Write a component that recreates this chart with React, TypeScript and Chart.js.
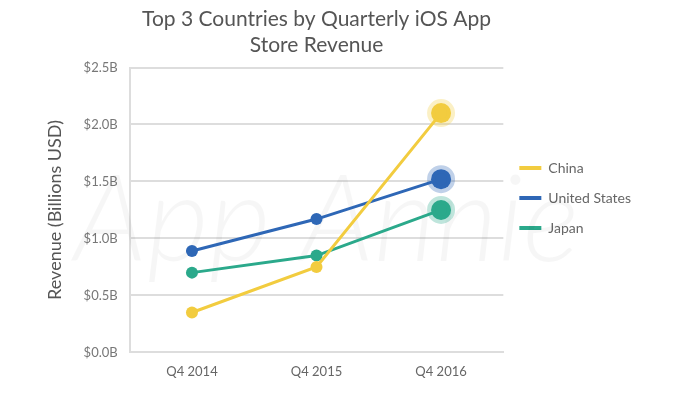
import React, { useEffect, useRef } from "react";
import { Chart, registerables } from "chart.js";

Chart.register(...registerables);

const categories = ["Q4 2014", "Q4 2015", "Q4 2016"];
const china = [0.35, 0.75, 2.1];
const unitedStates = [0.89, 1.17, 1.52];
const japan = [0.7, 0.85, 1.25];
const seriesNames = ["China", "United States", "Japan"];
const titleLines = ["Top 3 Countries by Quarterly iOS App", "Store Revenue"];
const yAxisTitle = "Revenue (Billions USD)";
const watermark = "App Annie";

const FONT = "Lato, 'Open Sans', sans-serif";

const watermarkPlugin = {
  id: "watermark",
  beforeDatasetsDraw(chart: any) {
    const { ctx, chartArea } = chart;
    ctx.save();
    ctx.font = `italic 300 120px ${FONT}`;
    ctx.fillStyle = "rgba(0,0,0,0.035)";
    ctx.textAlign = "center";
    ctx.textBaseline = "middle";
    ctx.fillText(watermark, (chartArea.left + chartArea.right) / 2 + 10, 222);
    ctx.restore();
  },
};

export default function App() {
  const ref = useRef<HTMLCanvasElement>(null);
  useEffect(() => {
    if (!ref.current) return;
    const mk = (label: string, data: number[], color: string, halo: string) => ({
      label,
      data,
      borderColor: color,
      backgroundColor: color,
      borderWidth: 3,
      pointRadius: [6, 6, 10],
      pointHoverRadius: [6, 6, 10],
      pointBackgroundColor: color,
      pointBorderColor: [color, color, halo],
      pointBorderWidth: [0, 0, 8],
      tension: 0,
    });
    const chart = new Chart(ref.current, {
      type: "line",
      data: {
        labels: categories,
        datasets: [
          mk(seriesNames[0], china, "#F2CC3F", "rgba(242,204,63,0.3)"),
          mk(seriesNames[1], unitedStates, "#2E67B6", "rgba(46,103,182,0.3)"),
          mk(seriesNames[2], japan, "#2BA98B", "rgba(43,169,139,0.3)"),
        ],
      },
      options: {
        animation: false,
        responsive: false,
        layout: { padding: { top: 4, right: 59, bottom: 7, left: 40 } },
        plugins: {
          title: {
            display: true,
            text: titleLines,
            color: "#555",
            font: { family: FONT, size: 21, weight: "normal", lineHeight: 1.25 },
            padding: { top: 2, bottom: 9 },
            fullSize: false,
          },
          legend: {
            position: "right",
            align: "center",
            labels: {
              color: "#666",
              font: { family: FONT, size: 14 },
              boxWidth: 22,
              boxHeight: 4,
              padding: 16,
              generateLabels(chart: any) {
                const items = Chart.defaults.plugins.legend.labels.generateLabels(chart);
                return items.map((it: any) => ({ ...it, lineWidth: 0 }));
              },
            },
          },
          tooltip: { enabled: false },
        },
        scales: {
          x: {
            offset: true,
            grid: { display: false, drawTicks: false },
            border: { display: true, color: "#dddddd", width: 2 },
            ticks: { color: "#666", font: { family: FONT, size: 13 }, padding: 12 },
          },
          y: {
            min: 0,
            max: 2.5,
            ticks: {
              stepSize: 0.5,
              color: "#777",
              font: { family: FONT, size: 13 },
              padding: 12,
              callback: (v: any) => `$${Number(v).toFixed(1)}B`,
            },
            grid: { color: "#dddddd", lineWidth: 2, drawTicks: false },
            border: { display: true, color: "#dddddd", width: 2 },
            title: {
              display: true,
              text: yAxisTitle,
              color: "#555",
              font: { family: FONT, size: 18 },
              padding: { bottom: 6 },
            },
          },
        },
      },
      plugins: [watermarkPlugin],
    } as any);
    return () => chart.destroy();
  }, []);
  return (
    <div style={{ position: "fixed", left: 0, top: 0, width: 700, height: 399, background: "#fff" }}>
      <canvas ref={ref} width={700} height={399} />
    </div>
  );
}
